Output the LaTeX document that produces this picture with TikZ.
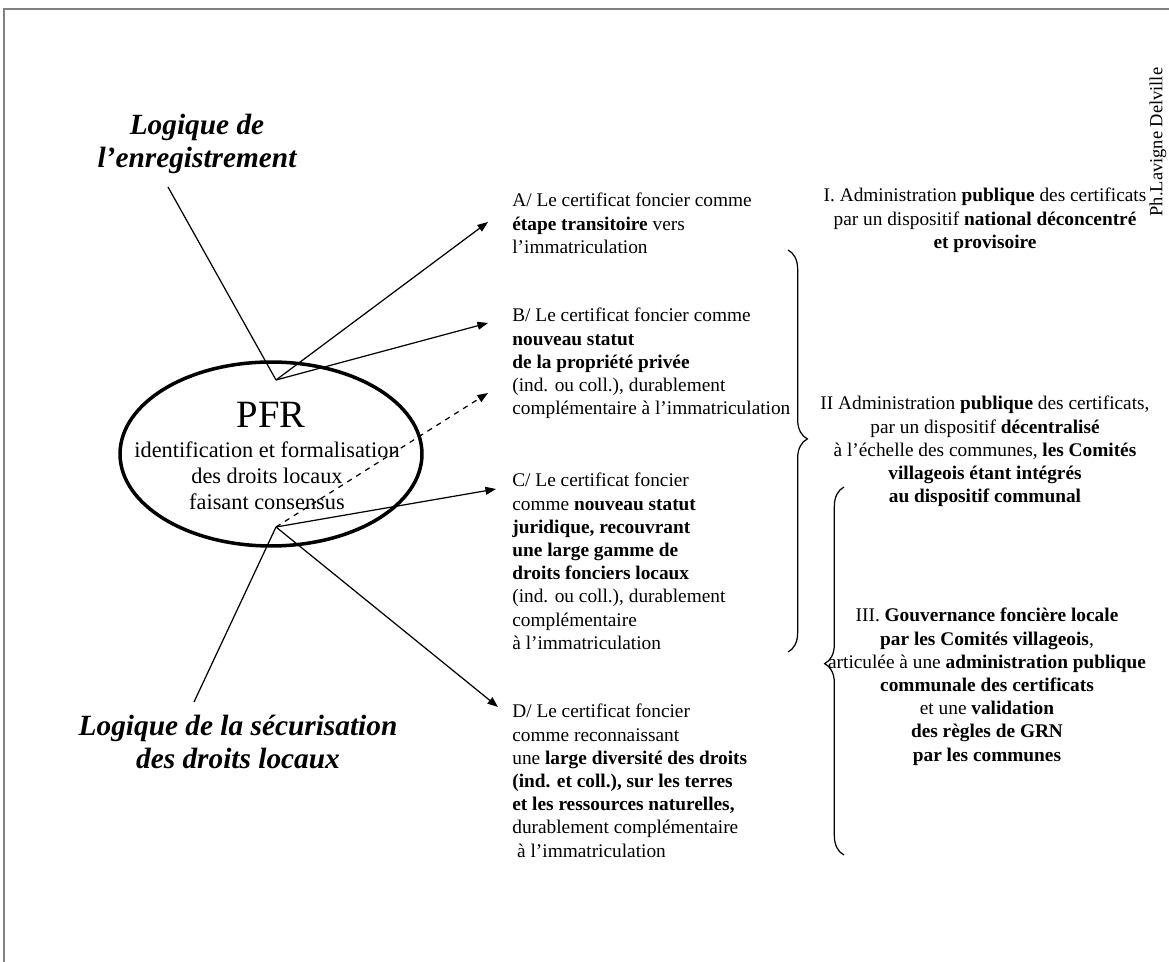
\documentclass[tikz,border=0pt]{standalone}
\usepackage{fontspec}
\setmainfont{Liberation Serif}
\usetikzlibrary{arrows.meta, shapes.geometric, decorations.pathreplacing, positioning}

\begin{document}
\begin{tikzpicture}[x=0.02cm, y=-0.02cm,
  txt/.style={inner sep=0pt, align=left, anchor=north west, font=\fontsize{11}{13.2}\selectfont},
  adm/.style={inner sep=0pt, align=center, anchor=north, font=\fontsize{11}{13.2}\selectfont},
  logic/.style={inner sep=0pt, align=center, anchor=north, font=\fontsize{16.7}{18.5}\selectfont\bfseries\itshape},
  conn/.style={line width=0.7pt},
  arr/.style={conn, -{Triangle[length=6pt, width=4.5pt]}},
  curly/.style={line width=0.7pt, decorate}]
  \useasboundingbox (0,0) rectangle (1169,962);

  % Frame
  \draw[gray, line width=1.1pt] (4,962) -- (4,9) -- (1169,9);

  % Central ellipse
  \node[draw, ellipse, line width=2pt, minimum width=6.04cm, minimum height=3.68cm] (pfr) at (271,454) {};
  \node[inner sep=0pt, font=\fontsize{22}{26}\selectfont] (pfrtitle) at (271,415) {PFR};
  \node[inner sep=0pt, align=center, font=\fontsize{12.7}{14.7}\selectfont] (pfrtext) at (267,476)
    {identification et formalisation\\des droits locaux\\faisant consensus};

  % Two logics
  \node[logic] (logenr) at (197,114) {Logique de\\l'enregistrement};
  \node[logic] (logsec) at (238,715) {Logique de la sécurisation\\des droits locaux};

  % Status of the certificate
  \node[txt] (certA) at (512,193) {A/ Le certificat foncier comme\\\textbf{étape transitoire} vers\\l'immatriculation};
  \node[txt] (certB) at (512,308) {B/ Le certificat foncier comme\\\textbf{nouveau statut}\\\textbf{de la propriété privée}\\(ind. ou coll.), durablement\\complémentaire à l'immatriculation};
  \node[txt] (certC) at (512,473) {C/ Le certificat foncier\\comme \textbf{nouveau statut}\\\textbf{juridique, recouvrant}\\\textbf{une large gamme de}\\\textbf{droits fonciers locaux}\\(ind. ou coll.), durablement\\complémentaire\\à l'immatriculation};
  \node[txt] (certD) at (512,704) {D/ Le certificat foncier\\comme reconnaissant\\une \textbf{large diversité des droits}\\\textbf{(ind. et coll.), sur les terres}\\\textbf{et les ressources naturelles,}\\durablement complémentaire\\\ à l'immatriculation};

  % Administration
  \node[adm] (admI) at (985,188) {I. Administration \textbf{publique} des certificats\\par un dispositif \textbf{national déconcentré}\\\textbf{et provisoire}};
  \node[adm] (admII) at (985,396) {II Administration \textbf{publique} des certificats,\\par un dispositif \textbf{décentralisé}\\à l'échelle des communes, \textbf{les Comités}\\\textbf{villageois étant intégrés}\\\textbf{au dispositif communal}};
  \node[adm] (govIII) at (987,608) {III. \textbf{Gouvernance foncière locale}\\\textbf{par les Comités villageois},\\articulée à une \textbf{administration publique}\\\textbf{communale des certificats}\\et une \textbf{validation}\\\textbf{des règles de GRN}\\\textbf{par les communes}};

  \node[rotate=90, inner sep=0pt, font=\fontsize{10.5}{12}\selectfont] (credit) at (1158,142) {Ph.Lavigne Delville};

  % Connectors
  \coordinate (enrfoot) at (168,187);
  \coordinate (vup) at (276,380);
  \coordinate (vlow) at (276,527);
  \coordinate (secfoot) at (194,702);
  \coordinate (tipA) at (488,222);
  \coordinate (tipB) at (488,323);
  \coordinate (tipdash) at (488,393);
  \coordinate (tipC) at (496,489);
  \coordinate (tipD) at (498,707);

  \draw[conn] (enrfoot) -- (vup);
  \draw[arr] (vup) -- (tipA);
  \draw[arr] (vup) -- (tipB);
  \draw[conn] (secfoot) -- (vlow);
  \draw[arr, dashed] (vlow) -- (tipdash);
  \draw[arr] (vlow) -- (tipC);
  \draw[arr] (vlow) -- (tipD);

  % Braces
  \draw[curly, decoration={brace, amplitude=11pt, aspect=0.47}] (788,250) -- (788,652);
  \draw[curly, decoration={brace, amplitude=11pt, aspect=0.52}] (844,855) -- (844,487);
\end{tikzpicture}
\end{document}
